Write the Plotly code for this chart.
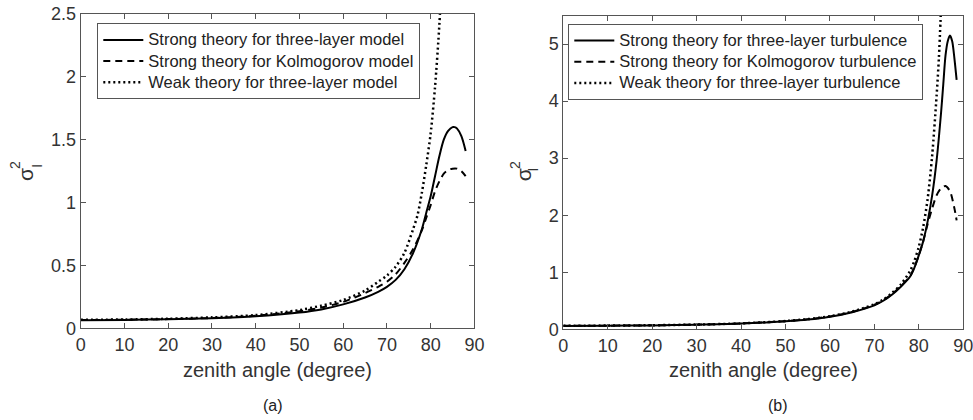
import plotly.graph_objects as go

# ---------------- data ----------------
# (a) left panel
ang_a_strong3 = [0, 10, 20, 30, 40, 50, 55, 60, 65, 68, 70, 72, 74, 76, 78, 79, 80, 81, 82, 83, 84, 85, 85.5, 86, 87, 88]
val_a_strong3 = [0.065, 0.067, 0.072, 0.080, 0.095, 0.125, 0.150, 0.190, 0.245, 0.290, 0.330, 0.385, 0.470, 0.600, 0.790, 0.920, 1.050, 1.210, 1.370, 1.500, 1.570, 1.600, 1.600, 1.590, 1.530, 1.410]

ang_a_strongK = [0, 10, 20, 30, 40, 50, 55, 60, 65, 68, 70, 72, 74, 76, 78, 79, 80, 81, 82, 83, 84, 85, 86, 87, 88]
val_a_strongK = [0.066, 0.068, 0.073, 0.082, 0.100, 0.135, 0.165, 0.210, 0.280, 0.330, 0.370, 0.430, 0.520, 0.630, 0.780, 0.880, 0.980, 1.090, 1.170, 1.230, 1.260, 1.270, 1.270, 1.250, 1.210]

ang_a_weak3 = [0, 10, 20, 30, 40, 50, 55, 60, 65, 68, 70, 72, 74, 76, 77, 78, 79, 80, 81, 82, 82.5]
val_a_weak3 = [0.068, 0.070, 0.076, 0.087, 0.105, 0.145, 0.180, 0.225, 0.300, 0.370, 0.420, 0.490, 0.600, 0.790, 0.900, 1.080, 1.300, 1.550, 1.920, 2.420, 2.800]

# (b) right panel
ang_b_strong3 = [0, 10, 20, 30, 40, 50, 55, 60, 65, 70, 72, 74, 76, 78, 79, 80, 81, 82, 83, 84, 85, 85.5, 86, 86.5, 87, 87.5, 88, 88.5]
val_b_strong3 = [0.060, 0.062, 0.068, 0.080, 0.100, 0.140, 0.170, 0.220, 0.300, 0.420, 0.500, 0.610, 0.750, 0.920, 1.080, 1.300, 1.550, 1.900, 2.350, 2.960, 3.800, 4.300, 4.800, 5.050, 5.150, 5.050, 4.750, 4.370]

ang_b_strongK = [0, 10, 20, 30, 40, 50, 55, 60, 65, 70, 72, 74, 76, 78, 79, 80, 81, 82, 83, 84, 85, 86, 87, 88, 88.5]
val_b_strongK = [0.062, 0.064, 0.070, 0.082, 0.103, 0.143, 0.175, 0.225, 0.305, 0.430, 0.510, 0.620, 0.760, 0.930, 1.090, 1.300, 1.550, 1.850, 2.120, 2.350, 2.470, 2.510, 2.420, 2.120, 1.910]

ang_b_weak3 = [0, 10, 20, 30, 40, 50, 55, 60, 65, 70, 72, 74, 76, 78, 79, 80, 81, 82, 83, 84, 84.5, 85]
val_b_weak3 = [0.063, 0.065, 0.071, 0.083, 0.104, 0.145, 0.178, 0.228, 0.310, 0.440, 0.520, 0.640, 0.790, 1.020, 1.200, 1.450, 1.800, 2.300, 3.050, 4.100, 4.750, 5.650]

names_a = ["Strong theory for three-layer model", "Strong theory for Kolmogorov model", "Weak theory for three-layer model"]
names_b = ["Strong theory for three-layer turbulence", "Strong theory for Kolmogorov turbulence", "Weak theory for three-layer turbulence"]

x_ticks = [0, 10, 20, 30, 40, 50, 60, 70, 80, 90]
y_ticks_a = [0, 0.5, 1, 1.5, 2, 2.5]
y_ticks_b = [0, 1, 2, 3, 4, 5]

# ---------------- figure ----------------
FONT = "Liberation Sans, Arial, sans-serif"
W, H = 973, 420


def px(p):   # page x pixel -> paper fraction
    return p / W


def py(p):   # page y pixel -> paper fraction
    return 1 - p / H


styles = [dict(color="black", width=2, dash="solid"),
          dict(color="black", width=2, dash="7px,5px"),
          dict(color="black", width=2.5, dash="2px,3px")]


def leg_name(s):
    return f'<span style="font-size:16.5px">{s}</span>'


fig = go.Figure()
for (xs, ys), nm, st in zip([(ang_a_strong3, val_a_strong3), (ang_a_strongK, val_a_strongK), (ang_a_weak3, val_a_weak3)], names_a, styles):
    fig.add_trace(go.Scatter(x=xs, y=ys, mode="lines", name=leg_name(nm), line=dict(shape="spline", smoothing=0.8, **st),
                             xaxis="x", yaxis="y", legend="legend"))
for (xs, ys), nm, st in zip([(ang_b_strong3, val_b_strong3), (ang_b_strongK, val_b_strongK), (ang_b_weak3, val_b_weak3)], names_b, styles):
    fig.add_trace(go.Scatter(x=xs, y=ys, mode="lines", name=leg_name(nm), line=dict(shape="spline", smoothing=0.8, **st),
                             xaxis="x2", yaxis="y2", legend="legend2"))

axis_common = dict(showline=True, linecolor="#555555", linewidth=1, mirror="ticks", ticks="inside",
                   ticklen=5, tickcolor="#555555", showgrid=False, zeroline=False, automargin=False,
                   ticklabeloverflow="allow",
                   tickfont=dict(family=FONT, size=18, color="#333333"))

legend_common = dict(xanchor="left", yanchor="top", bgcolor="white", bordercolor="#555555", borderwidth=1,
                     font=dict(family=FONT, size=14, color="#222222"), tracegroupgap=0, itemwidth=40)

fig.update_layout(
    width=W, height=H, margin=dict(l=0, r=0, t=0, b=0),
    paper_bgcolor="white", plot_bgcolor="white",
    font=dict(family=FONT, color="#222222"),
    xaxis=dict(domain=[px(80.7), px(474.4)], range=[0, 90], tickvals=x_ticks, anchor="y", **axis_common),
    yaxis=dict(domain=[py(328.3), py(14)], range=[0, 2.5], tickvals=y_ticks_a,
               ticktext=[f"{v:g}" for v in y_ticks_a], anchor="x", **axis_common),
    xaxis2=dict(domain=[px(563.3), px(963.3)], range=[0, 90], tickvals=x_ticks, anchor="y2", **axis_common),
    yaxis2=dict(domain=[py(329.3), py(15.5)], range=[0, 5.5], tickvals=y_ticks_b, anchor="x2", **axis_common),
    legend=dict(x=px(97.3), y=py(23.3), **legend_common),
    legend2=dict(x=px(568.3), y=py(24), **legend_common),
    showlegend=True,
)

ann = []
# x-axis titles
for xc in [(80.7 + 474.4) / 2, (563.3 + 963.3) / 2]:
    ann.append(dict(text="zenith angle (degree)", x=px(xc), y=py(370), xref="paper", yref="paper",
                    showarrow=False, xanchor="center", yanchor="middle",
                    font=dict(family=FONT, size=20, color="#333333")))
# captions
for txt, xc in [("(a)", 273), ("(b)", 778)]:
    ann.append(dict(text=txt, x=px(xc), y=py(405), xref="paper", yref="paper", showarrow=False,
                    xanchor="center", yanchor="middle", font=dict(family=FONT, size=16, color="#222222")))
# y-axis titles: sigma with stacked superscript 2 and subscript I
for sx, sy, px2, py2, pxi, pyi in [(25, 175, 15, 165, 36.7, 166), (523.3, 175, 515, 165, 533.3, 169.3)]:
    ann.append(dict(text="σ", x=px(sx), y=py(sy), xref="paper", yref="paper", showarrow=False,
                    textangle=-90, xanchor="center", yanchor="middle",
                    font=dict(family=FONT, size=21, color="#333333")))
    ann.append(dict(text="2", x=px(px2), y=py(py2), xref="paper", yref="paper", showarrow=False,
                    textangle=-90, xanchor="center", yanchor="middle",
                    font=dict(family=FONT, size=14, color="#333333")))
    ann.append(dict(text="I", x=px(pxi), y=py(pyi), xref="paper", yref="paper", showarrow=False,
                    textangle=-90, xanchor="center", yanchor="middle",
                    font=dict(family=FONT, size=14, color="#333333")))
fig.update_layout(annotations=ann)

# remove the default 8px page margin so the 973x420 figure fills the window exactly
fig.write_html("out.html", config={"displayModeBar": False},
               post_script="document.body.style.margin='0px';")
